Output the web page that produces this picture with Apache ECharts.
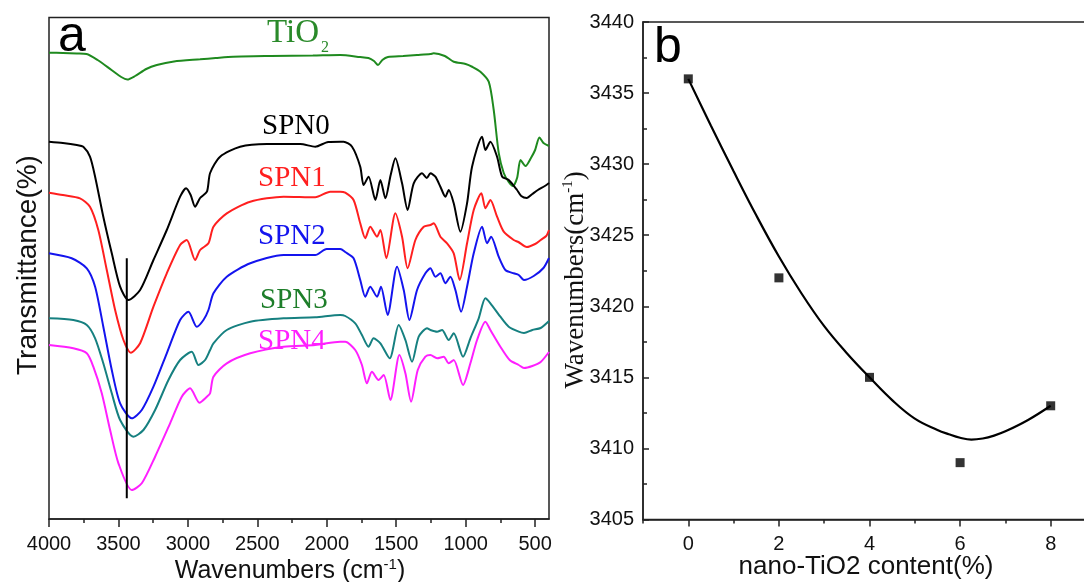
<!DOCTYPE html>
<html><head><meta charset="utf-8">
<script src="https://cdn.jsdelivr.net/npm/echarts@6/dist/echarts.min.js"></script>
<style>html,body{margin:0;padding:0;background:#fff}#c{width:1084px;height:582px}</style>
</head><body><div id="c"></div>
<script>
// ---------- Panel a : FTIR spectra  [wavenumber, relative transmittance (arb.)] ----------
const tio2 = [[4000,466.3],[3900,466],[3800,465.5],[3730,465],[3650,459],[3550,449],[3480,442],[3436,439.5],[3380,443],[3300,450],[3224,454],[3100,457.5],[2912,459.7],[2800,461],[2674,462.3],[2400,463],[2100,463.5],[1903,464],[1760,462],[1700,461],[1660,458],[1631,454],[1600,459],[1560,462],[1450,463],[1350,464],[1254,465],[1230,465.7],[1150,463],[1086,457.3],[1000,455],[950,452],[894,447.3],[834,437.3],[798,409],[762,366],[726,346],[690,337],[660,333],[630,341],[605,359],[569,353],[530,361],[500,369],[469,381.5],[440,376],[400,373]];
const spn0 = [[4000,377.3],[3900,376],[3800,374],[3753,372.3],[3705,362.3],[3668,342.3],[3609,302.3],[3548,265.7],[3488,232.3],[3428,219],[3344,229],[3248,259],[3152,289],[3056,322.3],[3013,330.7],[2980,324],[2948,312.3],[2912,321],[2863,327.3],[2840,346],[2768,362.3],[2624,372.3],[2431,375],[2191,375],[2083,372.3],[1990,377],[1903,377.3],[1879,377.3],[1818,372.3],[1759,352.3],[1735,334],[1699,342.3],[1650,319],[1614,339],[1578,320.7],[1540,344],[1506,360.7],[1458,335.7],[1418,309],[1374,335.7],[1314,345.7],[1280,341],[1254,345.7],[1218,342.3],[1182,332.3],[1146,322.3],[1122,329],[1086,315.7],[1038,287.3],[990,315.7],[954,352.3],[882,382.3],[858,369],[822,377.3],[774,362.3],[737,342.3],[690,339],[630,329],[600,323],[560,321],[520,325],[480,329],[430,333],[400,336]];
const spn1 = [[4000,326.3],[3900,324],[3777,320.7],[3705,312.3],[3645,289],[3584,249],[3524,209],[3464,179],[3411,166.3],[3344,175.7],[3248,212.3],[3152,245.7],[3056,274],[3008,279],[2948,259],[2912,269],[2852,275.7],[2816,292.3],[2720,305.7],[2551,317.3],[2311,322.3],[2083,321.7],[1975,327.3],[1903,327.3],[1867,326.3],[1807,319],[1759,295.7],[1723,280.7],[1687,292.3],[1638,282.3],[1614,289],[1571,260.7],[1506,305.7],[1458,282.3],[1418,250.7],[1362,279],[1302,292.3],[1254,294],[1230,295.7],[1182,282.3],[1134,275.7],[1086,265.7],[1043,239],[990,275.7],[942,309],[887,325.7],[858,310.7],[822,319],[774,302.3],[726,287.3],[654,279],[620,277],[560,272],[500,275],[460,279],[420,283],[400,289]];
const spn2 = [[4000,265.7],[3837,260.7],[3728,250.7],[3668,232.3],[3609,192.3],[3548,149],[3488,115.7],[3404,100.7],[3332,109],[3248,132.3],[3152,165.7],[3056,199],[2996,207.3],[2936,192.3],[2888,199],[2852,209],[2816,225.7],[2720,242.3],[2551,255.7],[2311,264],[2083,264],[2001,270],[1903,270],[1867,267],[1807,260.7],[1759,239],[1723,222.3],[1687,232.3],[1638,222.3],[1610,232.3],[1562,204],[1494,252.3],[1446,229],[1405,199],[1350,229],[1290,245.7],[1254,250.7],[1218,242.3],[1182,245.7],[1146,235.7],[1110,242.3],[1074,229],[1033,207.3],[990,232.3],[942,265.7],[882,292.3],[846,275.7],[817,282.3],[762,262.3],[714,249],[654,245.7],[618,244],[580,239],[510,243],[440,251],[400,261]];
const spn3 = [[4000,200.7],[3825,199],[3728,194],[3668,180.7],[3609,155.7],[3548,125.7],[3488,99],[3392,82.3],[3320,89],[3236,109],[3140,139],[3056,159],[2972,167.3],[2924,154],[2876,159],[2840,169],[2816,175.7],[2720,189],[2551,197.3],[2311,200.7],[2083,201.7],[1903,204],[1867,203],[1795,195.7],[1747,184],[1699,172.3],[1663,180.7],[1614,175.7],[1547,160.7],[1482,194],[1434,179],[1386,157.3],[1338,182.3],[1278,190.7],[1254,189],[1206,187.3],[1170,189],[1122,179],[1086,185.7],[1019,162.3],[966,180.7],[906,200.7],[858,220.7],[822,215.7],[750,202.3],[690,192.3],[618,187.3],[580,186],[520,189],[460,191],[400,198]];
const spn4 = [[4000,174],[3825,170.7],[3728,165.7],[3681,152.3],[3620,125.7],[3560,89],[3500,55.7],[3404,29],[3332,35.7],[3236,62.3],[3128,95.7],[3044,122.3],[2984,130.7],[2917,116.3],[2863,122.3],[2840,125.7],[2816,142.3],[2720,155.7],[2551,165.7],[2311,172.3],[2083,174],[1903,177.3],[1867,177.3],[1795,169],[1747,154],[1711,135.7],[1675,147.3],[1627,139],[1590,144],[1542,119],[1477,164],[1434,145.7],[1393,117.3],[1345,149],[1290,162.3],[1254,164],[1206,160.7],[1158,162.3],[1122,155.7],[1086,159],[1019,134],[966,155.7],[918,179],[858,197.3],[822,189],[750,172.3],[683,159],[618,154],[580,151],[520,153],[460,157],[400,167]];
const peakMarker = [[3440,260.7],[3440,20.7]];
const xTicksA = [500,1000,1500,2000,2500,3000,3500,4000];
const xMinorA = [750,1250,1750,2250,2750,3250,3750];

// ---------- Panel b : O-H band position vs nano-TiO2 content ----------
const contentPct = [0,2,4,6,8];
const peakWn = [3436,3422,3415,3409,3413];
const fitX = [0,0.5,1,1.5,2,2.5,3,3.5,4,4.5,5,5.5,5.75,6,6.25,6.5,6.75,7,7.5,8];
const fitY = [3436.0,3432.7,3429.5,3426.4,3423.5,3420.9,3418.6,3416.7,3415.0,3413.4,3412.1,3411.3,3411.0,3410.75,3410.62,3410.7,3410.9,3411.2,3412.0,3413.0];
const xTicksB = [0,2,4,6,8];
const xMinorB = [-1,1,3,5,7,9];

const SANS = 'Liberation Sans, Arial, sans-serif';
const SERIF = 'Liberation Serif, Times New Roman, serif';
const AX = '#222';
const plain = v => String(v);

const chart = echarts.init(document.getElementById('c'), null, {renderer:'canvas'});
const gridA = {left:49, top:17.5, width:500, height:501.5};
const gridB = {left:643, top:22, width:453, height:497.5};
const hiddenY = (gi)=>({gridIndex:gi, type:'value', min:0, max:501.5, show:false});

function spectrum(name, data, color){
  return {name, type:'line', xAxisIndex:0, yAxisIndex:0, data, showSymbol:false, symbol:'none',
    smooth:0.25, lineStyle:{color, width:2}, itemStyle:{color}, animation:false, z:3};
}

chart.setOption({
  backgroundColor:'#fff',
  animation:false,
  grid:[
    Object.assign({show:true, borderColor:AX, borderWidth:1.5, outerBoundsMode:'none', containLabel:false}, gridA),
    Object.assign({show:true, borderColor:AX, borderWidth:1.5, outerBoundsMode:'none', containLabel:false}, gridB),
    Object.assign({show:false, outerBoundsMode:'none', containLabel:false}, gridA),
    Object.assign({show:false, outerBoundsMode:'none', containLabel:false}, gridB)
  ],
  xAxis:[
    {gridIndex:0, type:'value', min:400, max:4000, inverse:true, position:'bottom',
     axisLine:{show:true, onZero:false, lineStyle:{color:AX, width:1.5}},
     axisTick:{show:true, customValues:xTicksA, length:8, lineStyle:{color:AX, width:1.5}},
     axisLabel:{customValues:xTicksA, formatter:plain, fontSize:20, fontFamily:SANS, color:'#111', margin:15},
     splitLine:{show:false}},
    {gridIndex:1, type:'value', min:-1, max:9, position:'bottom',
     axisLine:{show:true, onZero:false, lineStyle:{color:AX, width:1.5}},
     axisTick:{show:true, customValues:xTicksB, length:7, lineStyle:{color:AX, width:1.5}},
     axisLabel:{customValues:xTicksB, formatter:plain, fontSize:20, fontFamily:SANS, color:'#111', margin:15},
     splitLine:{show:false}},
    {gridIndex:2, type:'value', min:400, max:4000, inverse:true, position:'bottom',
     axisLine:{show:false, onZero:false}, axisLabel:{show:false}, splitLine:{show:false},
     axisTick:{show:true, customValues:xMinorA, length:4, lineStyle:{color:AX, width:1.5}}},
    {gridIndex:3, type:'value', min:-1, max:9, position:'bottom',
     axisLine:{show:false, onZero:false}, axisLabel:{show:false}, splitLine:{show:false},
     axisTick:{show:true, customValues:xMinorB, length:4, lineStyle:{color:AX, width:1.5}}}
  ],
  yAxis:[
    {gridIndex:0, type:'value', min:0, max:501.5, axisLine:{show:false, onZero:false}, axisTick:{show:false}, axisLabel:{show:false}, splitLine:{show:false}},
    {gridIndex:1, type:'value', min:3405, max:3440, interval:5, position:'left',
     axisLine:{show:true, onZero:false, lineStyle:{color:AX, width:1.5}},
     axisTick:{show:true, inside:true, length:6, lineStyle:{color:AX, width:1.5}},
     minorTick:{show:true, splitNumber:2, length:4, lineStyle:{color:AX, width:1.5}},
     axisLabel:{formatter:plain, fontSize:20, fontFamily:SANS, color:'#111', margin:9},
     splitLine:{show:false}, minorSplitLine:{show:false}},
    hiddenY(2), hiddenY(3)
  ],
  series:[
    spectrum('TiO2', tio2, '#1f8a1f'),
    spectrum('SPN0', spn0, '#000000'),
    spectrum('SPN1', spn1, '#ff1f1f'),
    spectrum('SPN2', spn2, '#1414ee'),
    spectrum('SPN3', spn3, '#168080'),
    spectrum('SPN4', spn4, '#ff1fff'),
    {name:'peak', type:'line', xAxisIndex:0, yAxisIndex:0, data:peakMarker, showSymbol:false, symbol:'none',
     lineStyle:{color:'#000', width:2}, z:4},
    {name:'fit', type:'line', xAxisIndex:1, yAxisIndex:1, data:fitX.map((x,i)=>[x, fitY[i]]),
     showSymbol:false, symbol:'none', smooth:0.4, lineStyle:{color:'#000', width:2.2}, z:3},
    {name:'data', type:'scatter', xAxisIndex:1, yAxisIndex:1, data:contentPct.map((x,i)=>[x, peakWn[i]]),
     symbol:'rect', symbolSize:9, itemStyle:{color:'#000'}, z:4}
  ],
  graphic:[
    {type:'text', x:58, y:37, z:10, style:{text:'a', font:'50px '+SANS, fill:'#000', align:'left', verticalAlign:'middle'}},
    {type:'text', x:654, y:48, z:10, style:{text:'b', font:'50px '+SANS, fill:'#000', align:'left', verticalAlign:'middle'}},
    {type:'text', x:267, y:33, z:10, style:{text:'TiO', font:'33px '+SERIF, fill:'#2a8a2a', align:'left', verticalAlign:'middle'}},
    {type:'text', x:321, y:47.5, z:10, style:{text:'2', font:'16px '+SERIF, fill:'#2a8a2a', align:'left', verticalAlign:'middle'}},
    {type:'text', x:262, y:126, z:10, style:{text:'SPN0', font:'29px '+SERIF, fill:'#000', align:'left', verticalAlign:'middle'}},
    {type:'text', x:258, y:178, z:10, style:{text:'SPN1', font:'29px '+SERIF, fill:'#ff1f1f', align:'left', verticalAlign:'middle'}},
    {type:'text', x:258, y:236, z:10, style:{text:'SPN2', font:'29px '+SERIF, fill:'#1414ee', align:'left', verticalAlign:'middle'}},
    {type:'text', x:260, y:300, z:10, style:{text:'SPN3', font:'29px '+SERIF, fill:'#1e7e2a', align:'left', verticalAlign:'middle'}},
    {type:'text', x:258, y:341, z:10, style:{text:'SPN4', font:'29px '+SERIF, fill:'#ff1fff', align:'left', verticalAlign:'middle'}},
    {type:'text', x:28, y:265, rotation:Math.PI/2, z:10, style:{text:'Transmittance(%)', font:'28px '+SANS, fill:'#111', align:'center', verticalAlign:'middle'}},
    {type:'text', x:290, y:571, z:10, style:{text:'{t|Wavenumbers (cm}{s|-1}{t|)}', align:'center', verticalAlign:'middle',
      rich:{t:{fontSize:25, fontFamily:SANS, fill:'#111', lineHeight:28, verticalAlign:'middle'}, s:{fontSize:15, fontFamily:SANS, fill:'#111', lineHeight:15, verticalAlign:'top'}}}},
    {type:'text', x:576, y:280, rotation:Math.PI/2, z:10, style:{text:'{t|Wavenumbers(cm}{s|-1}{t|)}', align:'center', verticalAlign:'middle',
      rich:{t:{fontSize:27, fontFamily:SERIF, fill:'#111', lineHeight:30, verticalAlign:'middle'}, s:{fontSize:15, fontFamily:SERIF, fill:'#111', lineHeight:15, verticalAlign:'top'}}}},
    {type:'text', x:866, y:567, z:10, style:{text:'nano-TiO2 content(%)', font:'26px '+SANS, fill:'#111', align:'center', verticalAlign:'middle'}}
  ]
});
</script></body></html>
